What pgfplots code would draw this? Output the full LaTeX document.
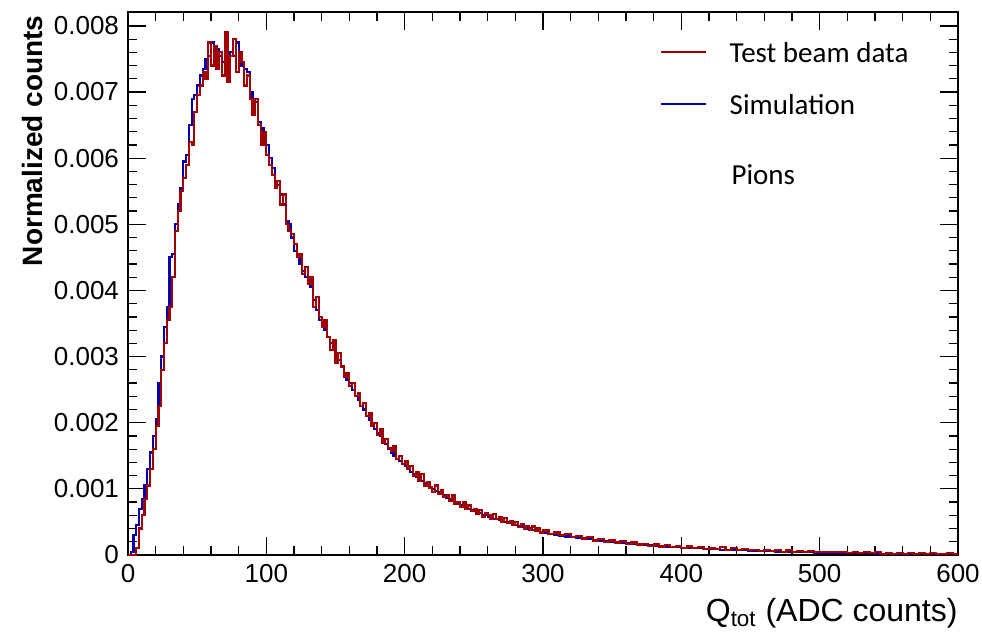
\documentclass[border=0pt]{standalone}
\usepackage{fontspec}
\setmainfont{Liberation Sans}
\newfontfamily\calfont{Carlito}
\usepackage{pgfplots}
\pgfplotsset{compat=1.18}
\definecolor{rootred}{RGB}{160,0,0}
\definecolor{rootblue}{RGB}{0,0,175}
\begin{document}
\begin{tikzpicture}
\useasboundingbox (-64pt,-42pt) rectangle (427pt,277.5pt);
\begin{axis}[
  scale only axis, width=415pt, height=271.5pt,
  xmin=0, xmax=600, ymin=0, ymax=8.21,
  xtick={0,100,...,600}, minor x tick num=4,
  ytick={0,1,...,8}, minor y tick num=4,
  yticklabels={0,0.001,0.002,0.003,0.004,0.005,0.006,0.007,0.008},
  tick align=inside, major tick length=9pt, minor tick length=4.5pt,
  tick style={black, line width=0.6pt},
  axis line style={black, line width=0.6pt},
  /pgf/number format/assume math mode=true,
  ticklabel style={font=\fontsize{13}{15}\selectfont},
  xticklabel style={yshift=-1pt},
  yticklabel style={xshift=-1pt},
  xlabel={Q\textsubscript{tot} (ADC counts)},
  xlabel style={font=\fontsize{16}{18}\selectfont, at={(rel axis cs:1,-0.079)}, anchor=north east, inner sep=0pt},
  ylabel={\bfseries Normalized counts},
  ylabel style={font=\fontsize{14}{16}\selectfont, at={(rel axis cs:-0.1024,0.994)}, anchor=south east, inner sep=0pt},
  clip=true,
]
% Simulation (blue)
\addplot[const plot, rootblue, line width=1.1pt] coordinates {
(0,0)(2,0.05)(4,0.3)(6,0.45)(8,0.7)(10,0.85)(12,1.05)(14,1.3)(16,1.55)(18,1.8)
(20,2.05)(22,2.6)(24,3.0)(26,3.45)(28,3.75)(30,4.5)(32,4.55)(34,5.0)(36,5.3)(38,5.55)
(40,5.95)(42,6.05)(44,6.5)(46,6.9)(48,6.95)(50,7.1)(52,7.25)(54,7.35)(56,7.5)(58,7.55)
(60,7.75)(62,7.5)(64,7.65)(66,7.55)(68,7.45)(70,7.7)(72,7.5)(74,7.6)(76,7.55)(78,7.75)
(80,7.4)(82,7.45)(84,7.35)(86,7.3)(88,7.0)(90,6.7)(92,6.85)(94,6.55)(96,6.45)(98,6.3)
(100,6.2)(102,6.0)(104,5.85)(106,5.65)(108,5.6)(110,5.45)(112,5.3)(114,5.05)(116,5.0)(118,4.8)
(120,4.6)(122,4.5)(124,4.4)(126,4.3)(128,4.2)(130,4.1)(132,4.05)(134,3.85)(136,3.7)(138,3.55)
(140,3.5)(142,3.4)(144,3.3)(146,3.2)(148,3.15)(150,3.0)(152,2.95)(154,2.85)(156,2.75)(158,2.65)
(160,2.6)(162,2.5)(164,2.4)(166,2.35)(168,2.25)(170,2.2)(172,2.1)(174,2.05)(176,1.98)(178,1.9)
(180,1.85)(182,1.8)(184,1.72)(186,1.68)(188,1.6)(190,1.55)(192,1.5)(194,1.45)(196,1.42)(198,1.38)
(200,1.35)(202,1.3)(204,1.25)(206,1.22)(208,1.18)(210,1.15)(212,1.12)(214,1.08)(216,1.05)(218,1.03)
(220,1.0)(222,0.97)(224,0.95)(226,0.92)(228,0.9)(230,0.87)(232,0.85)(234,0.82)(236,0.8)(238,0.77)
(240,0.76)(242,0.73)(244,0.72)(246,0.7)(248,0.68)(250,0.66)(252,0.64)(254,0.63)(256,0.61)(258,0.6)
(260,0.58)(262,0.57)(264,0.55)(266,0.55)(268,0.53)(270,0.52)(272,0.5)(274,0.49)(276,0.48)(278,0.46)
(280,0.45)(282,0.44)(284,0.43)(286,0.41)(288,0.4)(290,0.4)(292,0.38)(294,0.37)(296,0.36)(298,0.35)
(300,0.34)(304,0.32)(308,0.31)(312,0.29)(316,0.28)(320,0.27)(324,0.26)(328,0.25)(332,0.24)(336,0.23)
(340,0.22)(344,0.21)(348,0.2)(352,0.19)(356,0.19)(360,0.18)(364,0.17)(368,0.16)(372,0.16)(376,0.15)
(380,0.14)(384,0.14)(388,0.13)(392,0.12)(396,0.12)(400,0.11)(404,0.11)(408,0.1)(412,0.1)(416,0.09)
(420,0.09)(424,0.085)(428,0.08)(432,0.08)(436,0.075)(440,0.07)(444,0.07)(448,0.065)(452,0.06)(456,0.06)
(460,0.055)(464,0.055)(468,0.05)(472,0.05)(476,0.045)(480,0.045)(484,0.04)(488,0.04)(492,0.04)(496,0.035)
(500,0.035)(504,0.035)(508,0.03)(512,0.03)(516,0.03)(520,0.03)(524,0.025)(528,0.025)(532,0.025)(536,0.025)
(540,0.02)(544,0.02)(548,0.02)(552,0.02)(556,0.02)(560,0.02)(564,0.02)(568,0.015)(572,0.015)(576,0.015)
(580,0.015)(584,0.015)(588,0.015)(592,0.015)(596,0.015)(600,0.015)
};
% Test beam data (red)
\addplot[const plot, rootred, line width=1.1pt] coordinates {
(0,0)(2,0)(4,0)(6,0.1)(8,0.4)(10,0.6)(12,0.85)(14,1.05)(16,1.3)(18,1.6)
(20,1.95)(22,2.25)(24,2.8)(26,3.2)(28,3.55)(30,3.75)(32,4.2)(34,4.9)(36,5.2)(38,5.5)
(40,5.7)(42,5.9)(44,6.25)(46,6.2)(48,6.7)(50,6.95)(52,7.1)(54,7.3)(56,7.2)(58,7.75)
(60,7.4)(62,7.7)(64,7.35)(66,7.6)(68,7.25)(70,7.9)(72,7.15)(74,7.55)(76,7.8)(78,7.3)
(80,7.6)(82,7.45)(84,7.1)(86,7.25)(88,6.9)(90,6.65)(92,6.9)(94,6.5)(96,6.2)(98,6.4)
(100,6.05)(102,5.9)(104,5.75)(106,5.55)(108,5.65)(110,5.3)(112,5.45)(114,5.0)(116,4.9)(118,4.85)
(120,4.7)(122,4.5)(124,4.55)(126,4.25)(128,4.35)(130,4.1)(132,4.2)(134,3.75)(136,3.9)(138,3.6)
(140,3.45)(142,3.55)(144,3.3)(146,3.1)(148,3.25)(150,2.9)(152,3.05)(154,2.85)(156,2.7)(158,2.75)
(160,2.55)(162,2.6)(164,2.4)(166,2.45)(168,2.25)(170,2.3)(172,2.1)(174,2.15)(176,1.95)(178,2.0)
(180,1.82)(182,1.9)(184,1.7)(186,1.75)(188,1.62)(190,1.58)(192,1.65)(194,1.45)(196,1.5)(198,1.38)
(200,1.42)(202,1.3)(204,1.35)(206,1.2)(208,1.25)(210,1.12)(212,1.22)(214,1.05)(216,1.1)(218,1.02)
(220,0.95)(222,1.05)(224,0.92)(226,0.98)(228,0.88)(230,0.9)(232,0.82)(234,0.9)(236,0.78)(238,0.8)
(240,0.72)(242,0.8)(244,0.7)(246,0.75)(248,0.66)(250,0.7)(252,0.62)(254,0.68)(256,0.58)(258,0.64)
(260,0.6)(262,0.55)(264,0.62)(266,0.54)(268,0.57)(270,0.5)(272,0.56)(274,0.48)(276,0.52)(278,0.45)
(280,0.5)(282,0.42)(284,0.47)(286,0.4)(288,0.44)(290,0.38)(292,0.43)(294,0.36)(296,0.4)(298,0.34)
(300,0.37)(304,0.32)(308,0.34)(312,0.3)(316,0.32)(320,0.27)(324,0.29)(328,0.25)(332,0.27)(336,0.22)
(340,0.24)(344,0.2)(348,0.22)(352,0.19)(356,0.21)(360,0.17)(364,0.19)(368,0.16)(372,0.17)(376,0.14)
(380,0.16)(384,0.13)(388,0.15)(392,0.12)(396,0.14)(400,0.11)(404,0.13)(408,0.1)(412,0.12)(416,0.09)
(420,0.11)(424,0.09)(428,0.12)(432,0.08)(436,0.1)(440,0.08)(444,0.09)(448,0.07)(452,0.08)(456,0.06)
(460,0.08)(464,0.06)(468,0.07)(472,0.05)(476,0.07)(480,0.05)(484,0.06)(488,0.05)(492,0.06)(496,0.04)
(500,0.05)(504,0.04)(508,0.05)(512,0.04)(516,0.05)(520,0.03)(524,0.04)(528,0.03)(532,0.04)(536,0.03)
(540,0.04)(544,0.02)(548,0.03)(552,0.02)(556,0.03)(560,0.02)(564,0.03)(568,0.02)(572,0.03)(576,0.02)
(580,0.03)(584,0.02)(588,0.02)(592,0.03)(596,0.02)(600,0.02)
};
% legend
\draw[rootred, line width=0.8pt] (axis cs:385.6,7.606) -- (axis cs:418,7.606);
\draw[rootblue, line width=0.8pt] (axis cs:385.6,6.82) -- (axis cs:418,6.82);
\node[anchor=base west, inner sep=0pt, font=\calfont\fontsize{14.5}{17}\selectfont] at (axis cs:434.7,7.45) {Test beam data};
\node[anchor=base west, inner sep=0pt, font=\calfont\fontsize{14.5}{17}\selectfont] at (axis cs:434.7,6.66) {Simulation};
\node[anchor=base west, inner sep=0pt, font=\calfont\fontsize{14.5}{17}\selectfont] at (axis cs:436,5.6) {Pions};
\end{axis}
\end{tikzpicture}
\end{document}
